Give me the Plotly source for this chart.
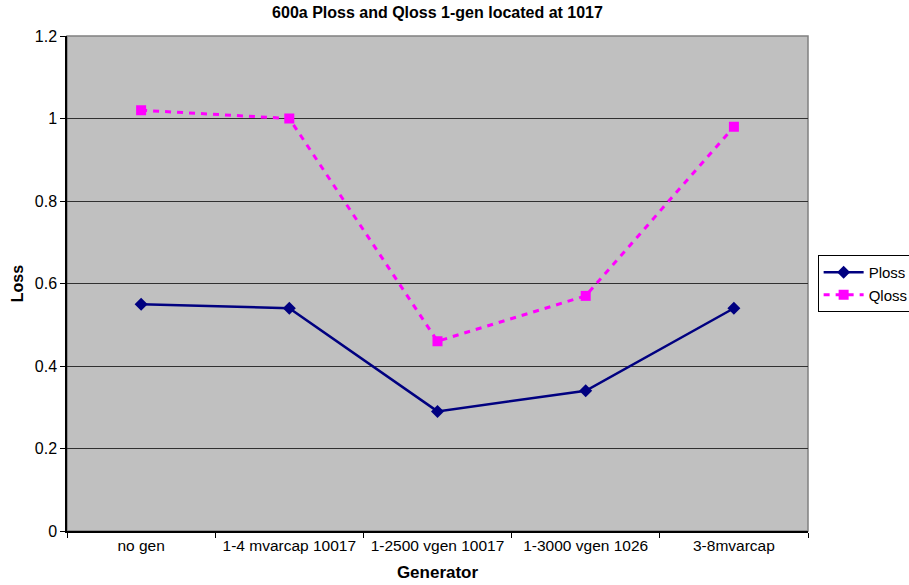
import plotly.graph_objects as go

# Generator configurations and the resulting losses
generators = ["no gen", "1-4 mvarcap 10017", "1-2500 vgen 10017", "1-3000 vgen 1026", "3-8mvarcap"]
ploss = [0.55, 0.54, 0.29, 0.34, 0.54]
qloss = [1.02, 1.00, 0.46, 0.57, 0.98]
y_ticks = [0, 0.2, 0.4, 0.6, 0.8, 1.0, 1.2]
y_tick_labels = ["0", "0.2", "0.4", "0.6", "0.8", "1", "1.2"]

FONT = "Liberation Sans, Arial, sans-serif"

fig = go.Figure()
fig.add_trace(go.Scatter(
    x=generators, y=ploss, name="Ploss", mode="lines+markers",
    line=dict(color="#000080", width=2.5),
    marker=dict(symbol="diamond", size=10, color="#000080"),
))
fig.add_trace(go.Scatter(
    x=generators, y=qloss, name="Qloss", mode="lines+markers",
    line=dict(color="#ff00ff", width=3, dash="6px,6px"),
    marker=dict(symbol="square", size=10, color="#ff00ff"),
))

fig.update_layout(
    width=909, height=585,
    margin=dict(l=67, r=101, t=36, b=54, autoexpand=False),
    paper_bgcolor="white",
    plot_bgcolor="#c0c0c0",
    font=dict(family=FONT, size=16, color="black"),
    title=dict(text="<b>600a Ploss and Qloss 1-gen located at 1017</b>",
               x=(67 + 808) / 2 / 909, xanchor="center", y=0.978, yanchor="middle",
               font=dict(size=16)),
    showlegend=True,
    legend=dict(x=1.013, xanchor="left", y=0.5, yanchor="middle",
                bordercolor="black", borderwidth=1, bgcolor="white",
                font=dict(size=15), tracegroupgap=0, itemwidth=40),
    xaxis=dict(
        type="category", range=[-0.5, 4.5], automargin=False,
        showline=True, linecolor="black", linewidth=1.5,
        ticks="outside", tickson="boundaries", ticklen=5, tickcolor="black",
        tickangle=0,
        showgrid=False, zeroline=False,
        title=dict(text="<b>Generator</b>", font=dict(size=17), standoff=13),
        tickfont=dict(size=15.5),
    ),
    yaxis=dict(
        range=[0, 1.2], tickvals=y_ticks, ticktext=y_tick_labels, automargin=False,
        showline=True, linecolor="black", linewidth=1.5,
        ticks="outside", ticklen=5, tickcolor="black",
        showgrid=True, gridcolor="#303030", gridwidth=1.4,
        zeroline=False,
        title=dict(text="<b>Loss</b>", font=dict(size=16), standoff=7),
        tickfont=dict(size=16),
    ),
    shapes=[dict(type="rect", xref="paper", yref="paper", x0=0, x1=1, y0=0, y1=1,
                 line=dict(color="#808080", width=1.5), layer="below")],
)

fig.write_html("out.html")
